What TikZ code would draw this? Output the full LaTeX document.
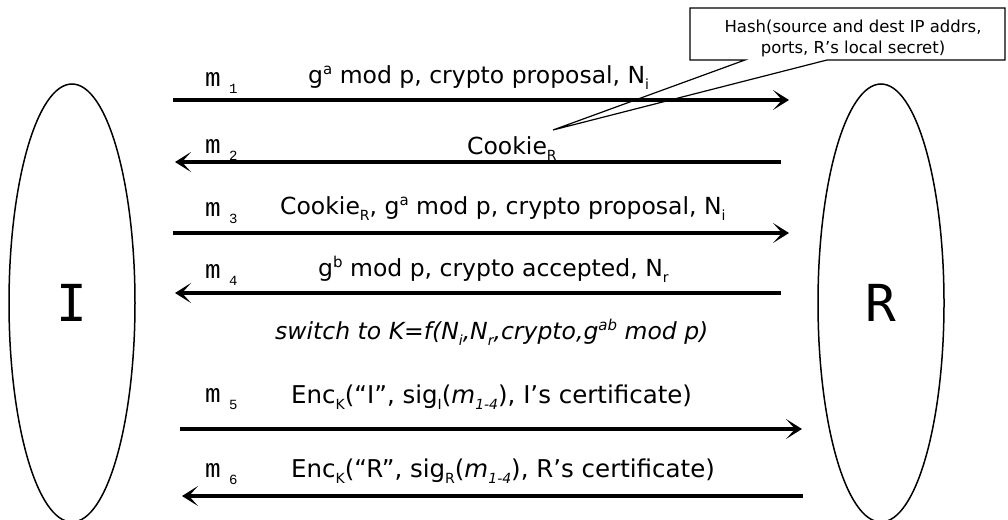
\documentclass[tikz,border=0pt]{standalone}
\usepackage{fontspec}
\setmainfont{DejaVu Sans}
\newfontfamily\courierfont{Liberation Mono}
\newfontfamily\peerfont{DejaVu Sans Mono}
\usetikzlibrary{arrows.meta,shapes.geometric,positioning}

\newcommand{\msgfont}{\fontsize{23.5}{28}\selectfont}
\newcommand{\subtxt}[1]{\raisebox{-6pt}{\fontsize{14}{14}\selectfont #1}}
\newcommand{\suptxt}[1]{\raisebox{9pt}{\fontsize{15}{15}\selectfont #1}}
% message number, e.g. m_1
\newcommand{\msgtag}[1]{{\courierfont\fontsize{26}{26}\selectfont m\raisebox{-7pt}{\fontsize{14}{14}\selectfont\ #1}}}

\begin{document}
\begin{tikzpicture}[x=1pt,y=-1pt,
    peer/.style={ellipse, draw, line width=1.5pt, minimum width=126pt, minimum height=438pt, inner sep=0pt,
      font=\peerfont\fontsize{51}{51}\selectfont},
    msg/.style={line width=3.5pt, -{Stealth[length=16pt,width=20pt,inset=9pt]}},
    tag/.style={anchor=base west, inner sep=0pt},
    body/.style={anchor=base west, inner sep=0pt, font=\msgfont}]

  \useasboundingbox (0,0) rectangle (1008,519);

  % Initiator and responder
  \node[peer] (I) at (72,303) {I};
  \node[peer] (R) at (881,303) {R};

  % Arrow ends
  \coordinate (i1) at (173,100); \coordinate (r1) at (789,100);
  \coordinate (i2) at (175,162); \coordinate (r2) at (781,162);
  \coordinate (i3) at (173,233); \coordinate (r3) at (789,233);
  \coordinate (i4) at (175,293); \coordinate (r4) at (781,293);
  \coordinate (i5) at (180,429); \coordinate (r5) at (802,429);
  \coordinate (i6) at (182,496); \coordinate (r6) at (803,496);

  % Messages
  \draw[msg] (i1) -- (r1);
  \draw[msg] (r2) -- (i2);
  \draw[msg] (i3) -- (r3);
  \draw[msg] (r4) -- (i4);
  \draw[msg] (i5) -- (r5);
  \draw[msg] (r6) -- (i6);

  % Message numbers
  \node[tag] (m1) at (205,86) {\msgtag{1}};
  \node[tag] (m2) at (205,153) {\msgtag{2}};
  \node[tag] (m3) at (205,216) {\msgtag{3}};
  \node[tag] (m4) at (205,278) {\msgtag{4}};
  \node[tag] (m5) at (205,402) {\msgtag{5}};
  \node[tag] (m6) at (205,477) {\msgtag{6}};

  % Message contents
  \node[body] (t1) at (308,83) {g\suptxt{a} mod p, crypto proposal, N\subtxt{i}};
  \node[body] (t2) at (467,154) {Cookie\subtxt{R}};
  \node[body] (t3) at (280,214) {Cookie\subtxt{R}, g\suptxt{a} mod p, crypto proposal, N\subtxt{i}};
  \node[body] (t4) at (318,276) {g\suptxt{b} mod p, crypto accepted, N\subtxt{r}};
  \node[body] (key) at (275,339) {\itshape switch to K=f(N\subtxt{i},N\subtxt{r},crypto,g\suptxt{ab} mod p)};
  \node[body, font=\fontsize{24.5}{28}\selectfont] (t5) at (291,403)
    {Enc\subtxt{K}(“I”, sig\subtxt{I}(\textit{m}\subtxt{\itshape 1-4}), I’s certificate)};
  \node[body, font=\fontsize{24.5}{28}\selectfont] (t6) at (291,477)
    {Enc\subtxt{K}(“R”, sig\subtxt{R}(\textit{m}\subtxt{\itshape 1-4}), R’s certificate)};

  % Callout on the cookie
  \node[font=\fontsize{16.5}{21}\selectfont, align=center] (hash) at (853,38)
    {Hash(source and dest IP addrs,\\ports, R’s local secret)};
  \coordinate (hint) at (553,130);
  \draw[line width=1.2pt] (745,60) -| (690,8) -| (1005,60) -- (827,60) -- (hint) -- cycle;
\end{tikzpicture}
\end{document}
